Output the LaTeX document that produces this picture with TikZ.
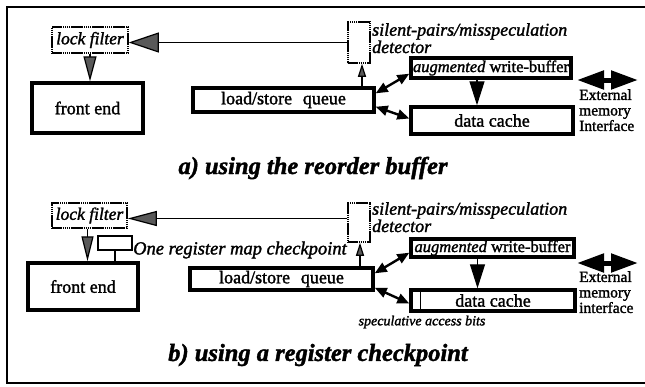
\documentclass[tikz,border=0pt]{standalone}
\usepackage{fontspec}
\setmainfont{Liberation Serif}[FakeBold=1.6]
\usetikzlibrary{arrows.meta}
\begin{document}
\begin{tikzpicture}[x=1pt,y=-1pt,
  thickbox/.style={draw, line width=3.4pt, inner sep=0pt, font=\fontsize{18}{18}\selectfont},
  thinbox/.style={draw, line width=1.5pt, dash pattern=on 1.6pt off 0.5pt, inner sep=0pt},
  lftext/.style={font=\fontsize{17.5}{17.5}\selectfont\itshape},
  dettext/.style={anchor=north west, inner sep=0pt, align=left, font=\fontsize{18}{14}\selectfont\itshape},
  exttext/.style={anchor=north west, inner sep=0pt, align=left, font=\fontsize{15.5}{15.5}\selectfont},
  caption/.style={font=\fontsize{24.5}{24.5}\selectfont\bfseries\itshape},
  thinline/.style={line width=1.2pt},
  bigtip/.style={-{Triangle[length=30pt,width=20pt,fill=black!65]}},
  downtip/.style={-{Triangle[length=25pt,width=13pt,fill=black!65]}},
  smalltip/.style={-{Triangle[length=13pt,width=8pt,fill=black!65]}},
  blacktip/.style={-{Triangle[length=24pt,width=15pt,fill=black]}},
  dbl/.style={line width=2.4pt, {Triangle[length=12pt,width=10pt]}-{Triangle[length=12pt,width=10pt]}},
  extarrow/.style={line width=5pt, {Triangle[length=27pt,width=18pt]}-{Triangle[length=27pt,width=18pt]}}
]
\useasboundingbox (0,0) rectangle (645,386);
% frame
\draw[line width=2.4pt] (645,7) -- (7,7) -- (7,383) -- (645,383);

% ---------------- panel a ----------------
\node[thinbox, lftext, minimum width=76pt, minimum height=26pt] (lfA) at (90,40) {lock filter};
\node[thickbox, minimum width=111pt, minimum height=50pt] (feA) at (87.5,108) {front end};
\node[thinbox, minimum width=22pt, minimum height=41pt] (detA) at (359,42.5) {};
\node[dettext] (detTA) at (372,23) {silent-pairs/misspeculation\\detector};
\node[thickbox, minimum width=181pt, minimum height=24pt] (lsqA) at (283.5,100) {load/store\hspace{0.6em}queue};
\node[thickbox, minimum width=160pt, minimum height=20pt, font=\fontsize{16.5}{16.5}\selectfont] (wbA) at (491,68) {\textit{augmented} write-buffer};
\node[thickbox, minimum width=162pt, minimum height=27pt] (dcA) at (492,120.5) {data cache};
\coordinate (eA1) at (577,80);
\coordinate (eA2) at (638,80);
\node[exttext] (extA) at (579,89) {External\\memory\\Interface};
\node[caption] (capA) at (313,168) {a) using the reorder buffer};

\draw[thinline, bigtip] (detA.west) -- (detA.west -| lfA.east);
\draw[thinline, downtip] (lfA.south) -- (lfA.south |- feA.north);
\draw[thinline, smalltip] ([xshift=3pt]detA.south |- lsqA.north) -- ([xshift=3pt]detA.south);
\draw[thinline, blacktip] ([xshift=-14pt]wbA.south) -- ([xshift=-14pt]wbA.south |- dcA.north);
\draw[dbl] ([yshift=-7pt]lsqA.north east) -- ([yshift=6pt]wbA.south west);
\draw[dbl] ([yshift=7pt]lsqA.south east) -- ([yshift=2pt]dcA.west);
\draw[extarrow] (eA1) -- (eA2);

% ---------------- panel b ----------------
\node[thinbox, lftext, minimum width=75pt, minimum height=25pt] (lfB) at (89.5,215.5) {lock filter};
\node[thickbox, minimum width=110pt, minimum height=47pt] (feB) at (83,286.5) {front end};
\node[draw, line width=1.5pt, inner sep=0pt, minimum width=34pt, minimum height=14pt] (chkB) at (115,243) {};
\node[anchor=west, inner sep=0pt, font=\fontsize{18.5}{18.5}\selectfont\itshape] (chkT) at (133,250) {One register map checkpoint};
\node[thinbox, minimum width=22pt, minimum height=39pt] (detB) at (359,222.5) {};
\node[dettext] (detTB) at (372,202) {silent-pairs/misspeculation\\detector};
\node[thickbox, minimum width=183pt, minimum height=22pt] (lsqB) at (281.5,279) {load/store\hspace{0.6em}queue};
\node[thickbox, minimum width=163pt, minimum height=18pt, font=\fontsize{16.5}{16.5}\selectfont] (wbB) at (492.5,248) {\textit{augmented} write-buffer};
\node[thickbox, minimum width=164pt, minimum height=21pt] (dcB) at (493,300.5) {data cache};
\draw[line width=1.5pt] (dcB.north west) ++(11,0) coordinate (divT) -- (divT |- dcB.south);
\node[inner sep=0pt, font=\fontsize{14}{14}\selectfont\itshape] (specB) at (422,322) {speculative access bits};
\coordinate (eB1) at (577,263);
\coordinate (eB2) at (638,263);
\node[exttext] (extB) at (579,271) {External\\memory\\interface};
\node[caption] (capB) at (318,355) {b) using a register checkpoint};

\draw[thinline, -{Triangle[length=29pt,width=15pt,fill=black!65]}] ([yshift=4pt]detB.west) -- ([yshift=4pt]detB.west -| lfB.east);
\draw[thinline, -{Triangle[length=25pt,width=12pt,fill=black!65]}] ([xshift=-2pt]lfB.south) -- ([xshift=-2pt]lfB.south |- feB.north);
\draw[line width=1.5pt] (chkB.south) -- (chkB.south |- feB.north);
\draw[thinline, smalltip] ([xshift=1pt]detB.south |- lsqB.north) -- ([xshift=1pt]detB.south);
\draw[thinline, blacktip] ([xshift=-15pt]wbB.south) -- ([xshift=-15pt]wbB.south |- dcB.north);
\draw[dbl] ([yshift=-7pt]lsqB.north east) -- ([yshift=6pt]wbB.south west);
\draw[dbl] ([yshift=4pt]lsqB.south east) -- ([yshift=-3pt]dcB.west);
\draw[extarrow] (eB1) -- (eB2);
\end{tikzpicture}
\end{document}
